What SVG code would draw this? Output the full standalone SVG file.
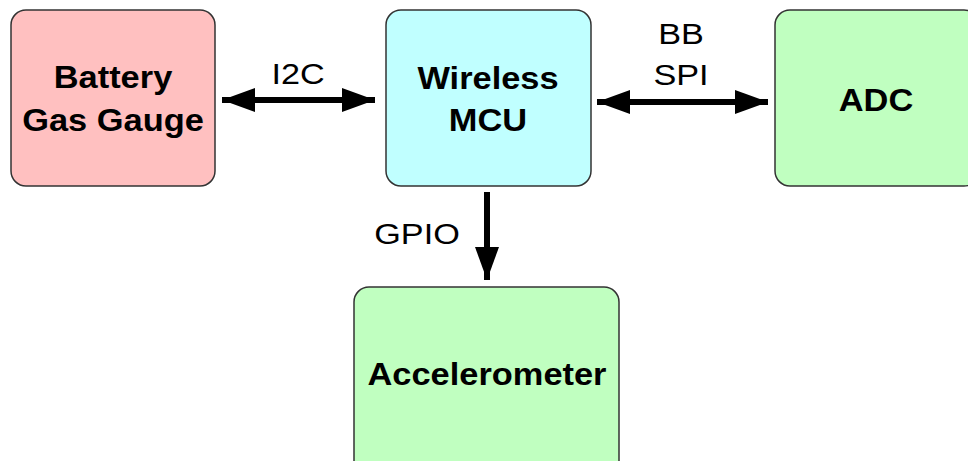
<svg xmlns="http://www.w3.org/2000/svg" width="968" height="461" viewBox="0 0 968 461">
  <style>
    .box { stroke: #333333; stroke-width: 1.5; }
    .pink { fill: #ffc0c0; }
    .cyan { fill: #c0ffff; }
    .green { fill: #c0ffc0; }
    .title { font-family: "Liberation Sans", Arial, sans-serif; font-weight: bold; font-size: 31px; fill: #000; text-anchor: middle; }
    .lbl { font-family: "Liberation Sans", Arial, sans-serif; font-size: 29px; fill: #000; text-anchor: middle; }
    .wire { stroke: #000; stroke-width: 6; fill: none; }
  </style>
  <defs>
    <marker id="head" viewBox="0 0 33 24" refX="33" refY="12" markerWidth="33" markerHeight="24" markerUnits="userSpaceOnUse" orient="auto-start-reverse">
      <path d="M0,0 L33,12 L0,24 Z" fill="#000"/>
    </marker>
  </defs>

  <rect width="968" height="461" fill="#ffffff"/>

  <!-- text is set in a wide face: each line is centred with translate, then stretched horizontally -->
  <g id="battery">
    <rect class="box pink" x="11" y="10" width="204" height="176" rx="15"/>
    <text class="title" x="0" y="88" transform="translate(113 0) scale(1.11 1)">Battery</text>
    <text class="title" x="0" y="131" transform="translate(113 0) scale(1.11 1)">Gas Gauge</text>
  </g>

  <g id="mcu">
    <rect class="box cyan" x="386" y="10" width="205" height="176" rx="15"/>
    <text class="title" x="0" y="89" transform="translate(488 0) scale(1.11 1)">Wireless</text>
    <text class="title" x="0" y="131" transform="translate(488 0) scale(1.11 1)">MCU</text>
  </g>

  <g id="adc">
    <rect class="box green" x="775" y="10" width="204" height="176" rx="15"/>
    <text class="title" x="0" y="111" transform="translate(876 0) scale(1.11 1)">ADC</text>
  </g>

  <g id="accelerometer">
    <rect class="box green" x="354" y="287" width="265" height="190" rx="15"/>
    <text class="title" x="0" y="385" transform="translate(487 0) scale(1.11 1)">Accelerometer</text>
  </g>

  <g id="connectors">
    <line class="wire" x1="222" y1="100" x2="375" y2="100" marker-start="url(#head)" marker-end="url(#head)"/>
    <text class="lbl" x="0" y="84" transform="translate(298 0) scale(1.18 1)">I2C</text>

    <line class="wire" x1="597" y1="102" x2="768" y2="102" marker-start="url(#head)" marker-end="url(#head)"/>
    <text class="lbl" x="0" y="44" transform="translate(681 0) scale(1.18 1)">BB</text>
    <text class="lbl" x="0" y="85" transform="translate(681 0) scale(1.18 1)">SPI</text>

    <line class="wire" x1="487" y1="192" x2="487" y2="280" marker-end="url(#head)"/>
    <text class="lbl" x="0" y="244" transform="translate(417 0) scale(1.18 1)">GPIO</text>
  </g>
</svg>
